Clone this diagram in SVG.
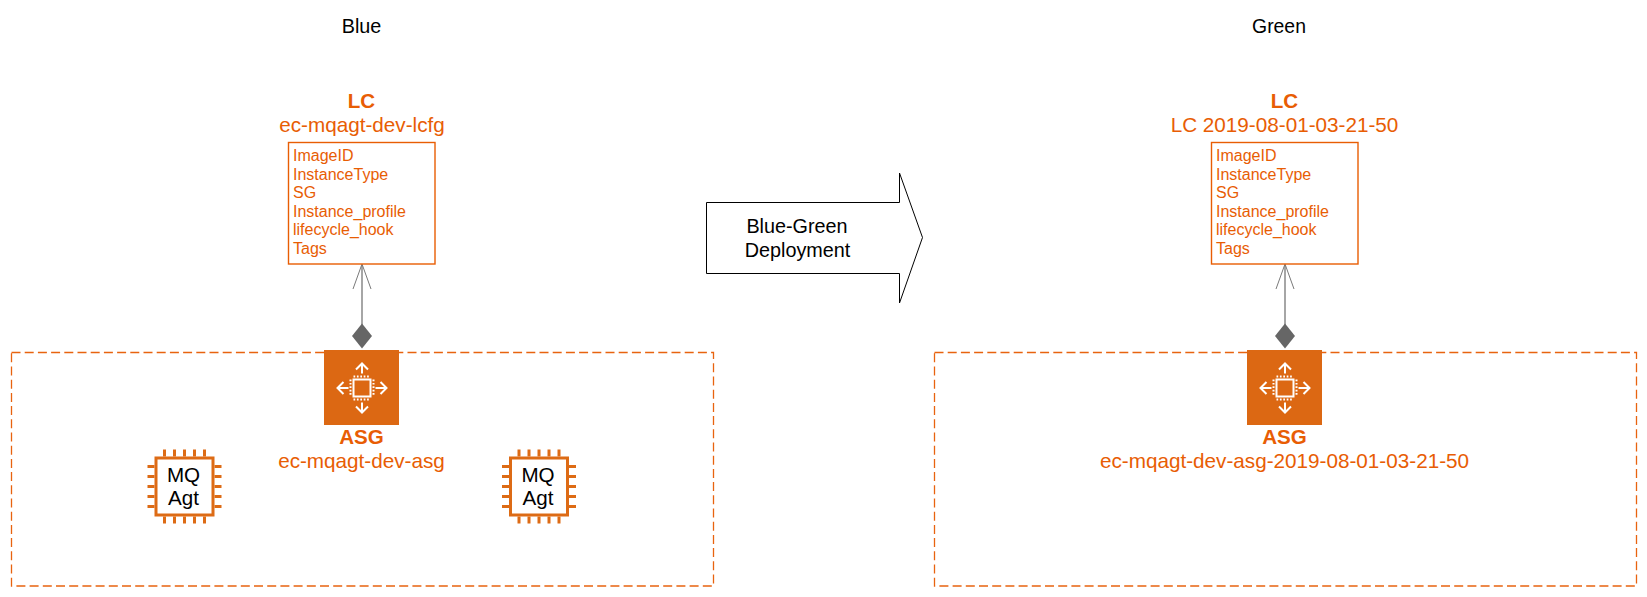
<svg xmlns="http://www.w3.org/2000/svg" xmlns:xlink="http://www.w3.org/1999/xlink" width="1647" height="597" viewBox="0 0 1647 597">
<style>
text{font-family:"Liberation Sans",Arial,sans-serif}
.o{fill:#e85d04;font-size:20.7px;text-anchor:middle}
.b{font-weight:bold;font-size:20.600px}
.p{fill:#e85d04;font-size:16px}
.k{fill:#000;font-size:19.800px;text-anchor:middle}
.m{font-size:20.600px}
.box{fill:#fff;stroke:#e85d04;stroke-width:1.4}
.dash{fill:none;stroke:#e8630f;stroke-width:1.3;stroke-dasharray:9 4.2}
.w{fill:none;stroke:#fff;stroke-width:2}
.c{fill:none;stroke:#dd6b15;stroke-width:3}
</style>
<defs>
<g id="asgicon">
<rect x="-37.500" y="-37.500" width="75" height="75" fill="#dc6813"/>
<rect x="-8" y="-8" width="17" height="17" class="w"/>
<path class="w" stroke-width="3" stroke-dasharray="1.700 1.700" d="M-8-11H9M-8 12H9M-11-8V9M12-8V9"/>
<path class="w" d="M.5-14V-24M-5.500-18L.5-24L6.500-18M.5 15V25M-5.500 19L.5 25L6.500 19M-13 .5H-24M-18-5.500L-24 .5L-18 6.500M14 .5H25M19-5.500L25 .5L19 6.500"/>
</g>
<g id="chip">
<rect x="-28.500" y="-28.500" width="57" height="57" fill="#fff" stroke="#dd6b15" stroke-width="3"/>
<path class="c" d="M-20-37V-30M-10-37V-30M0-37V-30M10-37V-30M20-37V-30M-20 30V37M-10 30V37M0 30V37M10 30V37M20 30V37M-37-20H-30M-37-10H-30M-37 0H-30M-37 10H-30M-37 20H-30M30-20H37M30-10H37M30 0H37M30 10H37M30 20H37"/>
</g>
<g id="props">
<rect x="0" y="0" width="146.500" height="121.500" class="box"/>
<text class="p" x="4.500" y="18.500">ImageID</text>
<text class="p" x="4.500" y="37">InstanceType</text>
<text class="p" x="4.500" y="55">SG</text>
<text class="p" x="4.500" y="74">Instance_profile</text>
<text class="p" x="4.500" y="92">lifecycle_hook</text>
<text class="p" x="4.500" y="111">Tags</text>
</g>
<g id="conn">
<path d="M0 1V62" fill="none" stroke="#a6a6a6" stroke-width="2"/>
<path d="M-9 25L0 0L9 25" fill="none" stroke="#7a7a7a" stroke-width="1"/>
<path d="M0 59.500L10 72L0 84.500L-10 72Z" fill="#666"/>
</g>
</defs>
<g id="blue-title"><text class="k" x="361.500" y="33">Blue</text></g>
<g id="green-title"><text class="k" x="1279" y="33" style="font-size:19.400px">Green</text></g>
<g id="blue-group"><rect x="11.500" y="352.500" width="702" height="233.500" class="dash"/></g>
<g id="green-group"><rect x="934.500" y="352.500" width="702" height="233.500" class="dash"/></g>
<g id="connectors">
<use xlink:href="#conn" href="#conn" x="362" y="264"/>
<use xlink:href="#conn" href="#conn" x="1285" y="264"/>
</g>
<g id="blue-lc">
<text class="o b" x="361.500" y="107.500">LC</text>
<text class="o" x="362" y="131.500">ec-mqagt-dev-lcfg</text>
<use xlink:href="#props" href="#props" x="288.500" y="142.500"/>
</g>
<g id="green-lc">
<text class="o b" x="1284.500" y="107.500">LC</text>
<text class="o" x="1284.500" y="131.500">LC 2019-08-01-03-21-50</text>
<use xlink:href="#props" href="#props" x="1211.500" y="142.500"/>
</g>
<g id="blue-asg">
<use xlink:href="#asgicon" href="#asgicon" x="361.500" y="387.500"/>
<text class="o b" x="361.500" y="444">ASG</text>
<text class="o" x="361.500" y="468">ec-mqagt-dev-asg</text>
</g>
<g id="green-asg">
<use xlink:href="#asgicon" href="#asgicon" x="1284.500" y="387.500"/>
<text class="o b" x="1284.500" y="444">ASG</text>
<text class="o" x="1284.500" y="468">ec-mqagt-dev-asg-2019-08-01-03-21-50</text>
</g>
<g id="chip-1">
<use xlink:href="#chip" href="#chip" x="184.500" y="486.500"/>
<text class="k m" x="183.500" y="481.500">MQ</text>
<text class="k m" x="183.500" y="504.500">Agt</text>
</g>
<g id="chip-2">
<use xlink:href="#chip" href="#chip" x="539" y="486.500"/>
<text class="k m" x="538" y="481.500">MQ</text>
<text class="k m" x="538" y="504.500">Agt</text>
</g>
<g id="deploy-arrow">
<path d="M706.500 202.500H899.500V173L922.500 237.500L899.500 303V273.500H706.500Z" fill="#fff" stroke="#000" stroke-width="1"/>
<text class="k" x="797" y="233">Blue-Green</text>
<text class="k" x="797.500" y="257">Deployment</text>
</g>
</svg>
